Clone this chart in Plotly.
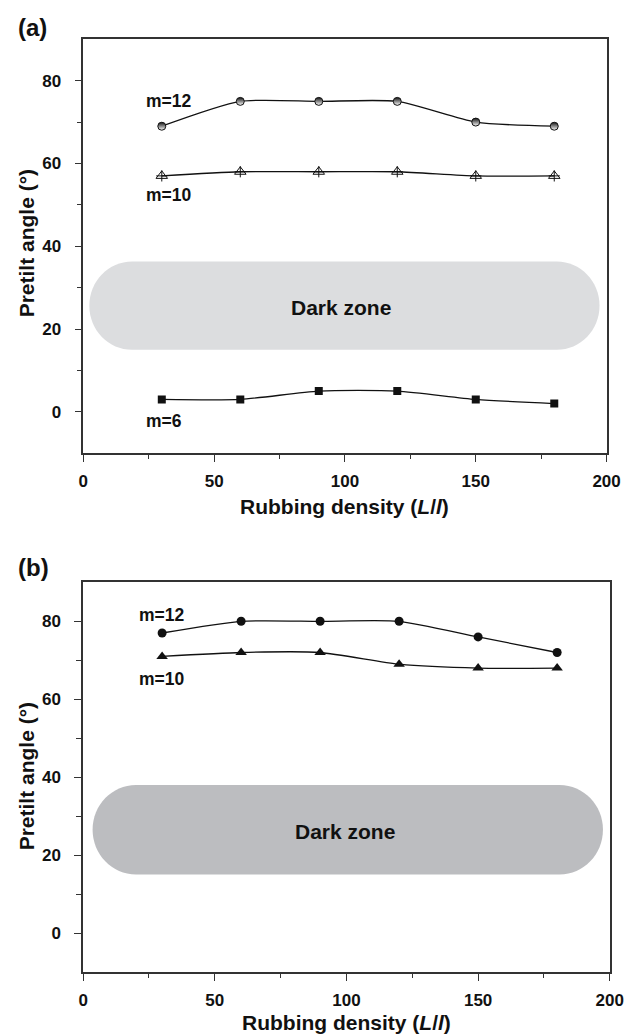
import plotly.graph_objects as go

# ---------------- data ----------------
density = [30, 60, 90, 120, 150, 180]
a_m12 = [69, 75, 75, 75, 70, 69]
a_m10 = [57, 58, 58, 58, 57, 57]
a_m6 = [3, 3, 5, 5, 3, 2]
b_m12 = [77, 80, 80, 80, 76, 72]
b_m10 = [71, 72, 72, 69, 68, 68]

x_ticks = [0, 50, 100, 150, 200]
x_minor = [25, 75, 125, 175]
y_ticks = [0, 20, 40, 60, 80]
y_minor = [10, 30, 50, 70]
x_range = [0, 200]
y_range = [-10, 90]

zone_a_x = [2.3, 197.3]
zone_a_y = [15.0, 36.3]
zone_b_x = [3.6, 197.4]
zone_b_y = [15.1, 38.0]

# ---------------- layout geometry (pixels) ----------------
W, H = 640, 1036
A_X = (80.7, 620.0)
A_Y = (39.3, 453.2)   # top, bottom
B_X = (80.5, 623.3)
B_Y = (582.3, 972.3)

FONT = "Liberation Sans"
INK = "#111111"


def xdom(px):
    return [px[0] / W, px[1] / W]


def ydom(py):
    return [1 - py[1] / H, 1 - py[0] / H]


def stadium(xs, ys, px_x, px_y):
    kx = (px_x[1] - px_x[0]) / (x_range[1] - x_range[0])
    ky = (px_y[1] - px_y[0]) / (y_range[1] - y_range[0])
    x0, x1 = xs
    y0, y1 = ys
    r = (y1 - y0) / 2.0
    yc = (y0 + y1) / 2.0
    rx = r * ky / kx
    k = 0.5523
    p = []
    p.append(f"M {x0 + rx},{y0}")
    p.append(f"L {x1 - rx},{y0}")
    p.append(f"C {x1 - rx + k * rx},{y0} {x1},{yc - k * r} {x1},{yc}")
    p.append(f"C {x1},{yc + k * r} {x1 - rx + k * rx},{y1} {x1 - rx},{y1}")
    p.append(f"L {x0 + rx},{y1}")
    p.append(f"C {x0 + rx - k * rx},{y1} {x0},{yc + k * r} {x0},{yc}")
    p.append(f"C {x0},{yc - k * r} {x0 + rx - k * rx},{y0} {x0 + rx},{y0} Z")
    return " ".join(p)


fig = go.Figure()

line_a = dict(color=INK, width=1.3, shape="spline", smoothing=0.65)
line_b = dict(color=INK, width=1.3, shape="spline", smoothing=0.6)

# panel (a)
fig.add_trace(go.Scatter(
    x=density, y=a_m12, mode="lines+markers", xaxis="x", yaxis="y",
    line=line_a,
    marker=dict(symbol="circle", size=8, color=INK,
                gradient=dict(type="vertical", color="white"),
                line=dict(color=INK, width=1)),
    showlegend=False, hoverinfo="skip"))
fig.add_trace(go.Scatter(
    x=density, y=a_m10, mode="lines+markers", xaxis="x", yaxis="y",
    line=line_a,
    marker=dict(symbol="triangle-up-open", size=10, color=INK,
                line=dict(color=INK, width=1)),
    showlegend=False, hoverinfo="skip"))
fig.add_trace(go.Scatter(
    x=density, y=a_m10, mode="markers", xaxis="x", yaxis="y",
    marker=dict(symbol="cross-thin-open", size=8, color=INK,
                line=dict(color=INK, width=1)),
    showlegend=False, hoverinfo="skip"))
fig.add_trace(go.Scatter(
    x=density, y=a_m6, mode="lines+markers", xaxis="x", yaxis="y",
    line=line_a,
    marker=dict(symbol="square", size=8, color=INK),
    showlegend=False, hoverinfo="skip"))

# panel (b)
fig.add_trace(go.Scatter(
    x=density, y=b_m12, mode="lines+markers", xaxis="x2", yaxis="y2",
    line=line_b,
    marker=dict(symbol="circle", size=9, color=INK),
    showlegend=False, hoverinfo="skip"))
fig.add_trace(go.Scatter(
    x=density, y=b_m10, mode="lines+markers", xaxis="x2", yaxis="y2",
    line=line_b,
    marker=dict(symbol="triangle-up", size=10, color=INK),
    showlegend=False, hoverinfo="skip"))

tickfont = dict(family=FONT, size=17, color=INK, weight="bold")
axis_common = dict(
    showline=True, linecolor="#333333", linewidth=1.5, mirror=True,
    ticks="outside", ticklen=7, tickwidth=1.2, tickcolor="#333333",
    showgrid=False, zeroline=False, tickfont=tickfont,
    fixedrange=True,
)

fig.update_layout(
    width=W, height=H,
    margin=dict(l=0, r=0, t=0, b=0),
    paper_bgcolor="white", plot_bgcolor="white",
    xaxis=dict(domain=xdom(A_X), range=x_range, anchor="y",
               tickmode="array", tickvals=x_ticks, ticklabelstandoff=5,
               minor=dict(tickmode="array", tickvals=x_minor, ticks="outside",
                          ticklen=4, tickcolor="#333333", tickwidth=1.2),
               **axis_common),
    yaxis=dict(domain=ydom(A_Y), range=y_range, anchor="x",
               tickmode="array", tickvals=y_ticks, ticklabelstandoff=10,
               minor=dict(tickmode="array", tickvals=y_minor, ticks="outside",
                          ticklen=5, tickcolor="#333333", tickwidth=1.2),
               **axis_common),
    xaxis2=dict(domain=xdom(B_X), range=x_range, anchor="y2",
                tickmode="array", tickvals=x_ticks, ticklabelstandoff=5,
                minor=dict(tickmode="array", tickvals=x_minor, ticks="outside",
                           ticklen=4, tickcolor="#333333", tickwidth=1.2),
                **axis_common),
    yaxis2=dict(domain=ydom(B_Y), range=y_range, anchor="x2",
                tickmode="array", tickvals=y_ticks, ticklabelstandoff=10,
                minor=dict(tickmode="array", tickvals=y_minor, ticks="outside",
                           ticklen=5, tickcolor="#333333", tickwidth=1.2),
                **axis_common),
)

fig.add_shape(type="path", path=stadium(zone_a_x, zone_a_y, A_X, A_Y),
              xref="x", yref="y", fillcolor="#dcdddf", line=dict(width=0),
              layer="below")
fig.add_shape(type="path", path=stadium(zone_b_x, zone_b_y, B_X, B_Y),
              xref="x2", yref="y2", fillcolor="#bcbdc0", line=dict(width=0),
              layer="below")

lab = dict(family=FONT, size=17.5, color=INK, weight="bold")
big = dict(family=FONT, size=21, color=INK, weight="bold")
panel = dict(family=FONT, size=24, color=INK, weight="bold")

ann = []
# series labels
ann.append(dict(x=23.3, y=75.2, xref="x", yref="y", text="m=12", font=lab,
                xanchor="left", yanchor="middle", showarrow=False))
ann.append(dict(x=23.3, y=52.4, xref="x", yref="y", text="m=10", font=lab,
                xanchor="left", yanchor="middle", showarrow=False))
ann.append(dict(x=23.3, y=-2.2, xref="x", yref="y", text="m=6", font=lab,
                xanchor="left", yanchor="middle", showarrow=False))
ann.append(dict(x=20.5, y=81.5, xref="x2", yref="y2", text="m=12", font=lab,
                xanchor="left", yanchor="middle", showarrow=False))
ann.append(dict(x=20.5, y=65.3, xref="x2", yref="y2", text="m=10", font=lab,
                xanchor="left", yanchor="middle", showarrow=False))
# dark zone labels
ann.append(dict(x=98.3, y=25.3, xref="x", yref="y", text="Dark zone", font=big,
                xanchor="center", yanchor="middle", showarrow=False))
ann.append(dict(x=99.5, y=26.2, xref="x2", yref="y2", text="Dark zone", font=big,
                xanchor="center", yanchor="middle", showarrow=False))
# axis titles
xt = "Rubbing density (<i>L</i>/<i>l</i>)"
yt = "Pretilt angle (°)"
ann.append(dict(x=(A_X[0] + A_X[1]) / 2 / W, y=1 - 506 / H, xref="paper", yref="paper",
                text=xt, font=big, xanchor="center", yanchor="middle", showarrow=False))
ann.append(dict(x=(B_X[0] + B_X[1]) / 2 / W, y=1 - 1022 / H, xref="paper", yref="paper",
                text=xt, font=big, xanchor="center", yanchor="middle", showarrow=False))
ann.append(dict(x=22 / W, y=1 - 243 / H, xref="paper", yref="paper", text=yt,
                font=big, textangle=-90, xanchor="center", yanchor="middle",
                showarrow=False))
ann.append(dict(x=22 / W, y=1 - 776 / H, xref="paper", yref="paper", text=yt,
                font=big, textangle=-90, xanchor="center", yanchor="middle",
                showarrow=False))
# panel labels
ann.append(dict(x=11 / W, y=1 - 27.5 / H, xref="paper", yref="paper", text="(a)",
                font=panel, xanchor="left", yanchor="middle", showarrow=False))
ann.append(dict(x=11 / W, y=1 - 567.5 / H, xref="paper", yref="paper", text="(b)",
                font=panel, xanchor="left", yanchor="middle", showarrow=False))

fig.update_layout(annotations=ann)

fig.write_html(
    "out.html",
    config={"displayModeBar": False},
    post_script="document.body.style.margin='0';document.body.style.padding='0';",
)
